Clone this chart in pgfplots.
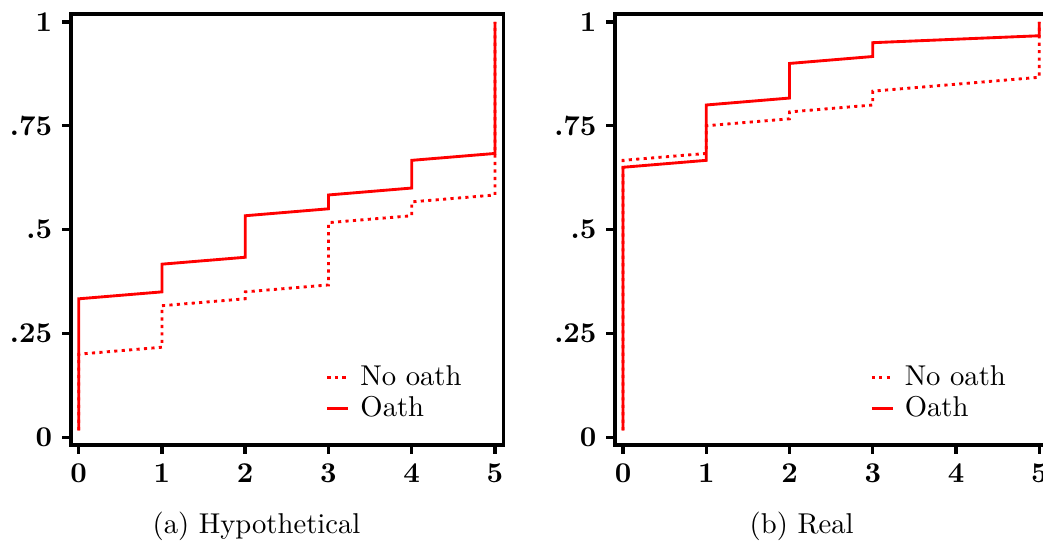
\documentclass[border=0pt]{standalone}
\usepackage{pgfplots}
\pgfplotsset{compat=1.18}

% cumulative shares, step 1/60
\pgfplotsset{
  cdfax/.style={
    scale only axis, width=150.9pt, height=150.4pt,
    anchor=north west,
    xmin=-0.095, xmax=5.1, ymin=-0.019, ymax=1.019,
    axis line style={line width=1.2pt},
    xtick={0,...,5}, xticklabels={0,1,2,3,4,5},
    ytick={0,0.25,0.5,0.75,1}, yticklabels={0,.25,.5,.75,1},
    tick align=outside, xtick pos=left, ytick pos=left,
    major tick length=3pt,
    tick style={line width=1.2pt, black},
    ticklabel style={font=\bfseries},
    legend style={at={(0.569,0.2135)}, anchor=north west,
      draw=none, fill=none, row sep=-1.5pt},
    legend cell align=left,
    legend image code/.code={\draw[##1] (0pt,0pt) -- (7.3pt,0pt); \path (9pt,0pt);},
  },
  oath/.style={red, line width=1pt},
  nooath/.style={red, line width=1pt, dash pattern=on 1.1pt off 1.5pt},
}

\begin{document}
\begin{tikzpicture}
\path[use as bounding box] (0pt,0pt) rectangle (363.9pt,-189.1pt);

\begin{axis}[cdfax, at={(24.7pt,-4.9pt)}]
\addplot[nooath] coordinates {
  (0,0.0167)(0,0.2)(1,0.2167)(1,0.3167)(2,0.3333)(2,0.35)
  (3,0.3667)(3,0.5167)(4,0.5333)(4,0.5667)(5,0.5833)(5,1)
};
\addplot[oath] coordinates {
  (0,0.0167)(0,0.3333)(1,0.35)(1,0.4167)(2,0.4333)(2,0.5333)
  (3,0.55)(3,0.5833)(4,0.6)(4,0.6667)(5,0.6833)(5,1)
};
\legend{No oath, Oath}
\end{axis}

\begin{axis}[cdfax, at={(214.6pt,-4.9pt)}]
\addplot[nooath] coordinates {
  (0,0.0167)(0,0.6667)(1,0.6833)(1,0.75)(2,0.7667)(2,0.7833)
  (3,0.8)(3,0.8333)(5,0.8667)(5,1)
};
\addplot[oath] coordinates {
  (0,0.0167)(0,0.65)(1,0.6667)(1,0.8)(2,0.8167)(2,0.9)
  (3,0.9167)(3,0.95)(5,0.9667)(5,1)
};
\legend{No oath, Oath}
\end{axis}

\node[anchor=base] at (89.5pt,-186.1pt) {(a) Hypothetical};
\node[anchor=base] at (279.7pt,-186.1pt) {(b) Real};
\end{tikzpicture}
\end{document}
